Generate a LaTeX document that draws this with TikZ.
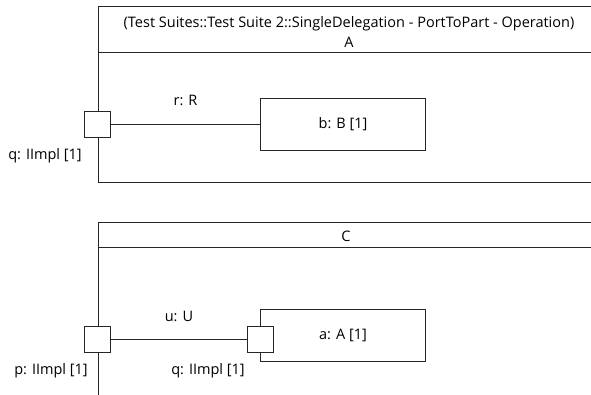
\documentclass[tikz,border=0pt]{standalone}
\usepackage{fontspec}
\setmainfont{Open Sans}
\usetikzlibrary{positioning}

\begin{document}
\begin{tikzpicture}[x=1pt, y=-1pt,
  frame/.style={draw=black!85, line width=1pt, inner sep=0pt, outer sep=0pt, anchor=north west},
  part/.style={draw=black!85, line width=1pt, minimum width=165pt, minimum height=52pt,
               inner sep=0pt, outer sep=0pt, font=\fontsize{14.5}{17}\selectfont},
  port/.style={draw=black!85, fill=white, line width=1pt, minimum size=26pt,
               inner sep=0pt, outer sep=0pt},
  conn/.style={draw=black!85, line width=1pt},
  lbl/.style={font=\fontsize{14.5}{17}\selectfont, inner sep=0pt, align=center}
]
\useasboundingbox (0,0) rectangle (591,395);
\clip (0,0) rectangle (591,395);

% Frame A
\node[frame, minimum width=540pt, minimum height=176pt] (fa) at (98.5,6.5) {};
\coordinate (ha) at (98.5,52.5);
\draw[conn] (ha) -- (ha -| fa.east);
\node[lbl, font=\fontsize{14.5}{20.5}\selectfont] (ta) at (349,32)
  {(Test Suites::Test Suite 2::SingleDelegation - PortToPart - Operation)\\A};

% Port q and part b
\node[port] (qa) at (97.5,124.5) {};
\node[part] (b) at (343,124.5) {b: B [1]};
\draw[conn] (qa) -- node[lbl, above=18pt] (r) {r: R} (b);
\node[lbl] (lq) at (45,156) {q: IImpl [1]};

% Frame C
\node[frame, minimum width=540pt, minimum height=200pt] (fc) at (98.5,222.5) {};
\coordinate (hc) at (98.5,247.5);
\draw[conn] (hc) -- (hc -| fc.east);
\node[lbl] (tc) at (346,236) {C};

% Port p and part a with port q
\node[part] (a) at (343,335.5) {a: A [1]};
\node[port] (pc) at (97.5,339.5) {};
\node[port] (qc) at (260.5,339.5) {};
\draw[conn] (pc) -- node[lbl, above=17pt] (u) {u: U} (qc);
\node[lbl] (lp) at (51,371) {p: IImpl [1]};
\node[lbl] (lqc) at (208,371) {q: IImpl [1]};
\end{tikzpicture}
\end{document}
